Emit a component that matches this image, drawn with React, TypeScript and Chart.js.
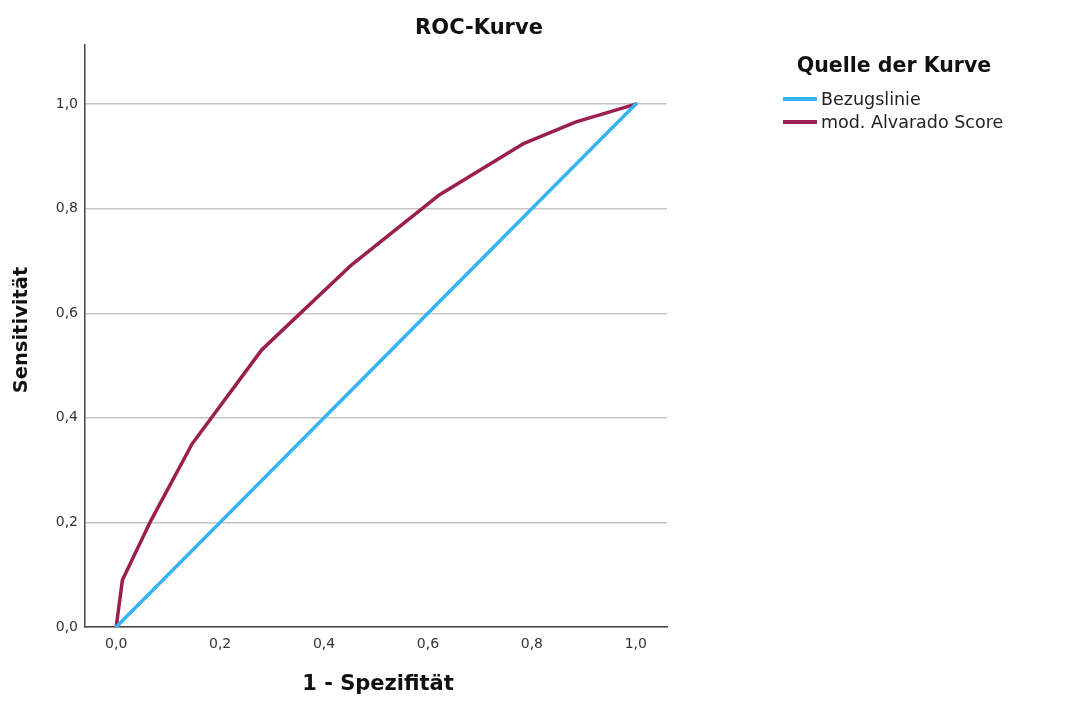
import React, { useEffect, useRef } from "react";
import { Chart, registerables } from "chart.js";

Chart.register(...registerables);

const titleText = "ROC-Kurve";
const xTitle = "1 - Spezifität";
const yTitle = "Sensitivität";
const legendTitle = "Quelle der Kurve";
const seriesNames = ["Bezugslinie", "mod. Alvarado Score"];
const seriesColors = ["#35b3f4", "#9a1f4e"];

const refX = [0, 1];
const refY = [0, 1];
const rocX = [0, 0.012, 0.065, 0.146, 0.28, 0.45, 0.62, 0.785, 0.885, 1];
const rocY = [0, 0.09, 0.2, 0.35, 0.53, 0.69, 0.825, 0.925, 0.966, 1];

const xTicks = [0, 0.2, 0.4, 0.6, 0.8, 1.0];
const yTicks = [0, 0.2, 0.4, 0.6, 0.8, 1.0];

const FONT = "'DejaVu Sans', 'Liberation Sans', sans-serif";
const fmt = (v: number) => v.toFixed(1).replace(".", ",");

const textPlugin = {
  id: "texts",
  afterDraw(chart: any) {
    const ctx = chart.ctx;
    const a = chart.chartArea;
    ctx.save();
    ctx.fillStyle = "#111";
    ctx.textBaseline = "middle";
    ctx.textAlign = "center";
    ctx.font = `bold 21px ${FONT}`;
    ctx.fillText(titleText, 479, 29);
    ctx.fillText(xTitle, (a.left + a.right) / 2 + 2, 685);
    ctx.save();
    ctx.font = `bold 19.5px ${FONT}`;
    ctx.translate(22, 330);
    ctx.rotate(-Math.PI / 2);
    ctx.fillText(yTitle, 0, 0);
    ctx.restore();
    // legend
    ctx.font = `bold 20.5px ${FONT}`;
    ctx.fillText(legendTitle, 894, 67);
    ctx.font = `17.5px ${FONT}`;
    ctx.textAlign = "left";
    const ys = [99, 122];
    seriesNames.forEach((n, i) => {
      ctx.strokeStyle = seriesColors[i];
      ctx.lineWidth = 4;
      ctx.beginPath();
      ctx.moveTo(783, ys[i]);
      ctx.lineTo(817, ys[i]);
      ctx.stroke();
      ctx.fillStyle = "#222";
      ctx.fillText(n, 821, ys[i] + 1);
    });
    ctx.restore();
  },
};

export default function App() {
  const ref = useRef<HTMLCanvasElement>(null);
  useEffect(() => {
    if (!ref.current) return;
    const chart = new Chart(ref.current, {
      type: "scatter",
      data: {
        datasets: [
          {
            label: seriesNames[0],
            data: refX.map((x, i) => ({ x, y: refY[i] })),
            borderColor: seriesColors[0],
            backgroundColor: seriesColors[0],
            borderWidth: 3.5,
            borderJoinStyle: "round",
            borderCapStyle: "round",
            showLine: true,
            pointRadius: 0,
          },
          {
            label: seriesNames[1],
            data: rocX.map((x, i) => ({ x, y: rocY[i] })),
            borderColor: seriesColors[1],
            backgroundColor: seriesColors[1],
            borderWidth: 3.5,
            borderJoinStyle: "round",
            borderCapStyle: "round",
            showLine: true,
            pointRadius: 0,
          },
        ],
      },
      options: {
        animation: false,
        responsive: false,
        maintainAspectRatio: false,
        layout: { padding: { top: 45, right: 413, left: 0, bottom: 0 } },
        plugins: { legend: { display: false }, title: { display: false }, tooltip: { enabled: false } },
        scales: {
          x: {
            type: "linear",
            min: -0.06,
            max: 1.06,
            afterFit: (s: any) => { s.height = 79; },
            afterBuildTicks: (s: any) => { s.ticks = xTicks.map((v) => ({ value: v })); },
            grid: { display: false, drawTicks: false },
            border: { display: true, color: "#444", width: 1.5 },
            ticks: {
              color: "#333",
              font: { family: FONT, size: 14 },
              padding: 9,
              maxRotation: 0,
              callback: (v: any) => fmt(Number(v)),
            },
          },
          y: {
            type: "linear",
            min: 0,
            max: 1.113,
            afterFit: (s: any) => { s.width = 85; },
            afterBuildTicks: (s: any) => { s.ticks = yTicks.map((v) => ({ value: v })); },
            grid: { display: true, color: "#c4c4c4", lineWidth: 1.5, drawTicks: false },
            border: { display: true, color: "#444", width: 1.5 },
            ticks: {
              color: "#333",
              font: { family: FONT, size: 14 },
              padding: 7,
              callback: (v: any) => fmt(Number(v)),
            },
          },
        },
      } as any,
      plugins: [textPlugin],
    });
    return () => chart.destroy();
  }, []);
  return (
    <div style={{ position: "fixed", left: 0, top: 0, width: 1080, height: 706, background: "#fff" }}>
      <canvas ref={ref} width={1080} height={706} style={{ width: 1080, height: 706 }} />
    </div>
  );
}
